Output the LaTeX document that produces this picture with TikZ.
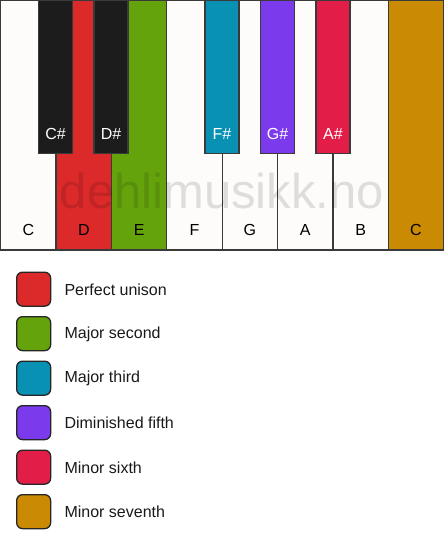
\documentclass[tikz,border=0pt]{standalone}
\usepackage{fontspec}
\setmainfont{Liberation Sans}
\definecolor{keywhite}{HTML}{FDFCFA}
\definecolor{keyblack}{HTML}{1C1C1C}
\definecolor{edge}{HTML}{3A3A3A}
\definecolor{cred}{HTML}{DC2A2A}
\definecolor{cgreen}{HTML}{65A30D}
\definecolor{cteal}{HTML}{0891B2}
\definecolor{cviolet}{HTML}{7C3AED}
\definecolor{crose}{HTML}{E11D48}
\definecolor{cgold}{HTML}{CA8A04}
\begin{document}
\begin{tikzpicture}[x=1pt,y=-1pt,
  whitekey/.style={draw=edge,line width=1.3pt,fill=keywhite,minimum width=55.5pt,minimum height=250pt,inner sep=0pt,outer sep=0pt,anchor=north west},
  blackkey/.style={draw=edge,line width=1.3pt,fill=keyblack,minimum width=34pt,minimum height=153pt,inner sep=0pt,outer sep=0pt,anchor=north},
  wlabel/.style={font=\fontsize{16}{18}\selectfont,text=black},
  blabel/.style={font=\fontsize{16}{18}\selectfont,text=white},
  swatch/.style={draw=black!85,line width=1.3pt,rounded corners=6pt,minimum size=34pt,inner sep=0pt,anchor=north west},
  legtext/.style={font=\fontsize{16}{18}\selectfont,anchor=west,text=black!90}]
\useasboundingbox (0,0) rectangle (444,550);
\fill[white] (0,0) rectangle (444,550);
% white keys
\foreach \n/\c [count=\i from 0] in {kc/keywhite,kd/cred,ke/cgreen,kf/keywhite,kg/keywhite,ka/keywhite,kb/keywhite,kcc/cgold}{
  \node[whitekey,fill=\c] (\n) at (0.75+55.35*\i,0) {};
}
% watermark
\node[anchor=base,font=\fontsize{49}{50}\selectfont,text=black,text opacity=0.12] (wm) at (222,208) {dehlimusikk.no};
% white labels
\foreach \n/\t in {kc/C,kd/D,ke/E,kf/F,kg/G,ka/A,kb/B,kcc/C}{
  \node[wlabel] (l\n) at ([yshift=20pt]\n.south) {\t};
}
% black keys
\node[blackkey] (cs) at (55.5,0.75) {};
\node[blackkey] (ds) at (111,0.75) {};
\node[blackkey,fill=cteal] (fs) at (222,0.75) {};
\node[blackkey,fill=cviolet] (gs) at (277.5,0.75) {};
\node[blackkey,fill=crose] (as) at (333,0.75) {};
\foreach \n/\t in {cs/C\#,ds/D\#,fs/F\#,gs/G\#,as/A\#}{
  \node[blabel] (l\n) at ([yshift=20pt]\n.south) {\t};
}
% legend
\foreach \c/\t [count=\i from 0] in {cred/Perfect unison,cgreen/Major second,cteal/Major third,cviolet/Diminished fifth,crose/Minor sixth,cgold/Minor seventh}{
  \node[swatch,fill=\c] (sw\i) at (16,271.5+44.5*\i) {};
  \node[legtext] (tx\i) at (61,289.5+44.5*\i) {\t};
}
\end{tikzpicture}
\end{document}
